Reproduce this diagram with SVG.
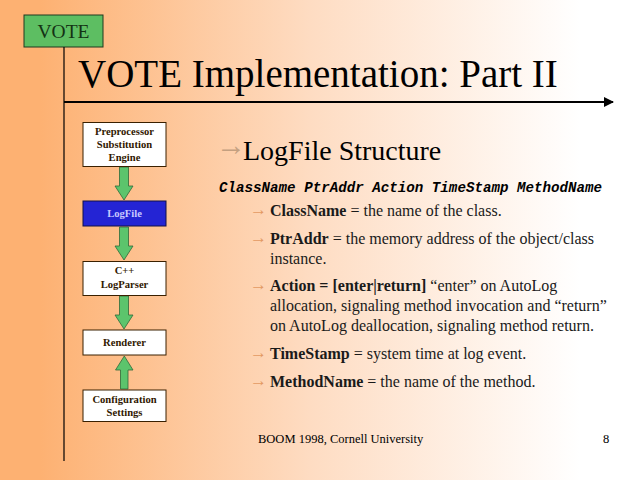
<svg xmlns="http://www.w3.org/2000/svg" width="640" height="480" viewBox="0 0 640 480">
<defs>
<linearGradient id="bg" gradientUnits="userSpaceOnUse" x1="40" y1="0" x2="580" y2="0">
<stop offset="0" stop-color="#FDB172"/>
<stop offset="0.5" stop-color="#FEDCC2"/>
<stop offset="1" stop-color="#FFFFFF"/>
</linearGradient>
<marker id="ah" markerWidth="10" markerHeight="10" refX="9" refY="5" orient="auto" markerUnits="userSpaceOnUse">
<path d="M0,0 L10,5 L0,10 z" fill="#000"/>
</marker>
<style>
.serif{font-family:'Liberation Serif', serif;}
.node rect{fill:#fff;stroke:#3a2000;stroke-width:1;}
.nt{font-family:'Liberation Serif', serif;font-size:10.6px;font-weight:bold;fill:#301800;text-anchor:middle;}
.garrow{fill:#5CC46C;stroke:#2f6a3a;stroke-width:0.8;}
.bul{font-family:'Liberation Serif', serif;font-size:16px;fill:#1a1a1a;}
.ba{font-family:'Liberation Serif', serif;font-size:17px;fill:#E39A62;}
.mono{font-family:'Liberation Mono', monospace;}
.b{font-weight:bold;}
</style>
</defs>
<rect width="640" height="480" fill="url(#bg)"/>
<rect width="40" height="480" fill="#FDB172"/>

<g id="vote-tag">
<rect x="24" y="15" width="79" height="32" fill="#5DBE62" stroke="#1e3a1e" stroke-width="1"/>
<text x="63.5" y="38" class="serif" font-size="19.5" fill="#143214" text-anchor="middle">VOTE</text>
</g>
<g id="frame-lines">
<line x1="64" y1="47" x2="64" y2="461" stroke="#000" stroke-width="1.2"/>
<line x1="64" y1="102" x2="613" y2="102" stroke="#000" stroke-width="2" marker-end="url(#ah)"/>
</g>
<text id="title" x="78" y="87" class="serif" font-size="39" fill="#000">VOTE Implementation: Part II</text>

<g id="connectors">
<path class="garrow" d="M119.5,167 H128.5 V186 H133 L124,200 L115,186 H119.5 Z"/>
<path class="garrow" d="M119.5,227 H128.5 V246 H133 L124,260 L115,246 H119.5 Z"/>
<path class="garrow" d="M119.5,296 H128.5 V315 H133 L124,329 L115,315 H119.5 Z"/>
<path class="garrow" d="M120.5,389 H128 V370 H133 L124.3,356 L115.5,370 H120.5 Z"/>
</g>

<g id="preprocessor" class="node">
<rect x="83" y="122.5" width="83" height="44"/>
<text class="nt" x="124.5" y="135">Preprocessor</text>
<text class="nt" x="124.5" y="148">Substitution</text>
<text class="nt" x="124.5" y="161">Engine</text>
</g>
<g id="logfile">
<rect x="83" y="201" width="83" height="25" fill="#2424D4" stroke="#10104a" stroke-width="1"/>
<text class="nt" x="124.5" y="217" style="fill:#C8C8FF">LogFile</text>
</g>
<g id="logparser" class="node">
<rect x="83" y="261.5" width="83" height="34"/>
<text class="nt" x="124.5" y="274">C++</text>
<text class="nt" x="124.5" y="288">LogParser</text>
</g>
<g id="renderer" class="node">
<rect x="83" y="330" width="83" height="25"/>
<text class="nt" x="124.5" y="346">Renderer</text>
</g>
<g id="config" class="node">
<rect x="83" y="390" width="83" height="31.5"/>
<text class="nt" x="124.5" y="403">Configuration</text>
<text class="nt" x="124.5" y="416">Settings</text>
</g>

<g id="content">
<text x="216" y="155" class="serif" font-size="30" font-weight="bold" fill="#C4A080">→</text>
<text x="243" y="160" class="serif" font-size="28" fill="#000">LogFile Structure</text>
<text x="219" y="192" class="mono" font-size="14.2" font-weight="bold" font-style="italic" fill="#000">ClassName PtrAddr Action TimeStamp MethodName</text>

<text x="250" y="215" class="ba">→</text>
<text x="270" y="216" class="bul"><tspan class="b">ClassName</tspan> = the name of the class.</text>
<text x="250" y="243" class="ba">→</text>
<text x="270" y="244" class="bul"><tspan class="b">PtrAddr</tspan> = the memory address of the object/class</text>
<text x="270" y="264" class="bul">instance.</text>
<text x="250" y="290" class="ba">→</text>
<text x="270" y="291" class="bul"><tspan class="b">Action = [enter|return]</tspan> “enter” on AutoLog</text>
<text x="270" y="311" class="bul">allocation, signaling method invocation and “return”</text>
<text x="270" y="331" class="bul">on AutoLog deallocation, signaling method return.</text>
<text x="250" y="358" class="ba">→</text>
<text x="270" y="359" class="bul"><tspan class="b">TimeStamp</tspan> = system time at log event.</text>
<text x="250" y="386" class="ba">→</text>
<text x="270" y="387" class="bul"><tspan class="b">MethodName</tspan> = the name of the method.</text>
</g>

<g id="footer">
<text x="258" y="443" class="serif" font-size="12.5" fill="#000">BOOM 1998, Cornell University</text>
<text x="603" y="443" class="serif" font-size="12.5" fill="#000">8</text>
</g>
</svg>
